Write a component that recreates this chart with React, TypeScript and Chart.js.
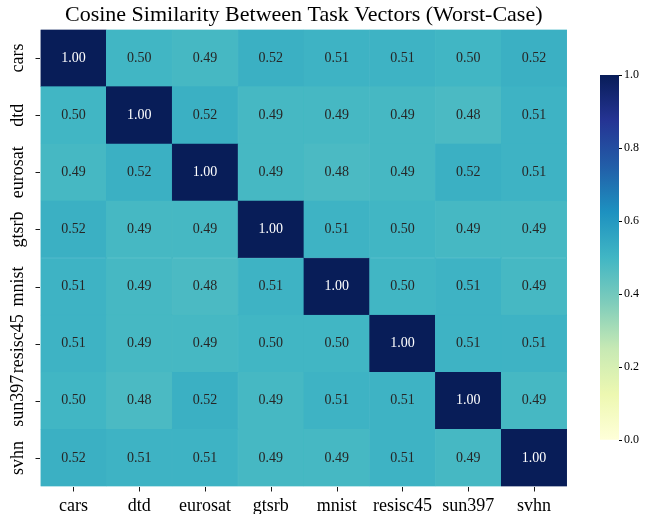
import React, { useEffect, useRef } from "react";
import { Chart, registerables } from "chart.js";

Chart.register(...registerables);

const TITLE = "Cosine Similarity Between Task Vectors (Worst-Case)";
const TASKS = ["cars", "dtd", "eurosat", "gtsrb", "mnist", "resisc45", "sun397", "svhn"];

const carsRow = [1.0, 0.5, 0.49, 0.52, 0.51, 0.51, 0.5, 0.52];
const dtdRow = [0.5, 1.0, 0.52, 0.49, 0.49, 0.49, 0.48, 0.51];
const eurosatRow = [0.49, 0.52, 1.0, 0.49, 0.48, 0.49, 0.52, 0.51];
const gtsrbRow = [0.52, 0.49, 0.49, 1.0, 0.51, 0.5, 0.49, 0.49];
const mnistRow = [0.51, 0.49, 0.48, 0.51, 1.0, 0.5, 0.51, 0.49];
const resisc45Row = [0.51, 0.49, 0.49, 0.5, 0.5, 1.0, 0.51, 0.51];
const sun397Row = [0.5, 0.48, 0.52, 0.49, 0.51, 0.51, 1.0, 0.49];
const svhnRow = [0.52, 0.51, 0.51, 0.49, 0.49, 0.51, 0.49, 1.0];

const MATRIX = [carsRow, dtdRow, eurosatRow, gtsrbRow, mnistRow, resisc45Row, sun397Row, svhnRow];

const CBAR_TICKS = [0, 0.2, 0.4, 0.6, 0.8, 1.0];

// YlGnBu colormap stops
const YLGNBU = ["#ffffd9", "#edf8b1", "#c7e9b4", "#7fcdbb", "#41b6c4", "#1d91c0", "#225ea8", "#253494", "#081d58"];

const FONT = "'Liberation Serif', 'DejaVu Serif', serif";

function hexToRgb(h: string) {
  const n = parseInt(h.slice(1), 16);
  return [(n >> 16) & 255, (n >> 8) & 255, n & 255];
}

function mix(v: number) {
  const t = Math.max(0, Math.min(1, v)) * (YLGNBU.length - 1);
  const i = Math.min(Math.floor(t), YLGNBU.length - 2);
  const f = t - i;
  const a = hexToRgb(YLGNBU[i]);
  const b = hexToRgb(YLGNBU[i + 1]);
  return a.map((x, k) => x + (b[k] - x) * f);
}

function cmap(v: number) {
  const c = mix(v).map((x) => Math.round(x));
  return `rgb(${c[0]},${c[1]},${c[2]})`;
}

function luminance(v: number) {
  const c = mix(v).map((x) => x / 255);
  return 0.2126 * c[0] + 0.7152 * c[1] + 0.0722 * c[2];
}

const PLOT_LEFT = 40.5;
const PLOT_RIGHT = 567;
const PLOT_TOP = 29.5;
const PLOT_BOTTOM = 486.5;
const W = 668;
const H = 514;

const heatPlugin = {
  id: "heatExtras",
  afterDatasetsDraw(chart: any) {
    const { ctx, chartArea } = chart;
    const yScale = chart.scales.y;
    const xScale = chart.scales.x;
    ctx.save();
    chart.data.datasets.forEach((ds: any, d: number) => {
      const meta = chart.getDatasetMeta(d);
      const rowIdx = TASKS.length - 1 - d;
      meta.data.forEach((el: any, c: number) => {
        const v = MATRIX[rowIdx][c];
        const cy = (el.y + el.base) / 2;
        ctx.font = `14px ${FONT}`;
        ctx.textAlign = "center";
        ctx.textBaseline = "middle";
        ctx.fillStyle = luminance(v) > 0.408 ? "#262626" : "#ffffff";
        ctx.fillText(v.toFixed(2), el.x, cy);
      });
    });
    // tick marks
    ctx.strokeStyle = "#000";
    ctx.lineWidth = 0.9;
    TASKS.forEach((_, i) => {
      const x = Math.round(xScale.getPixelForValue(i)) + 0.5;
      ctx.beginPath();
      ctx.moveTo(x, chartArea.bottom + 0.5);
      ctx.lineTo(x, chartArea.bottom + 5);
      ctx.stroke();
      const y = Math.round(yScale.getPixelForValue(TASKS.length - i - 0.5)) + 0.5;
      ctx.beginPath();
      ctx.moveTo(chartArea.left - 5, y);
      ctx.lineTo(chartArea.left - 0.5, y);
      ctx.stroke();
    });
    ctx.fillStyle = "#000";
    ctx.font = `18px ${FONT}`;
    TASKS.forEach((t, i) => {
      const y = yScale.getPixelForValue(TASKS.length - i - 0.5);
      ctx.save();
      ctx.translate(18, y);
      ctx.rotate(-Math.PI / 2);
      ctx.textAlign = "center";
      ctx.textBaseline = "middle";
      ctx.fillText(t, 0, 0);
      ctx.restore();
    });
    ctx.font = `22px ${FONT}`;
    ctx.textAlign = "center";
    ctx.textBaseline = "middle";
    ctx.fillText(TITLE, (chartArea.left + chartArea.right) / 2, 15);
    ctx.restore();
  },
};

function Heatmap() {
  const ref = useRef<HTMLCanvasElement>(null);
  useEffect(() => {
    if (!ref.current) return;
    const datasets = TASKS.map((_, d) => {
      const rowIdx = TASKS.length - 1 - d;
      return {
        label: TASKS[rowIdx],
        data: TASKS.map(() => 1),
        backgroundColor: MATRIX[rowIdx].map((v) => cmap(v)),
        borderColor: MATRIX[rowIdx].map((v) => cmap(v)),
        borderWidth: 0.5,
        borderSkipped: false,
        barPercentage: 1,
        categoryPercentage: 1,
      };
    });
    const chart = new Chart(ref.current, {
      type: "bar",
      data: { labels: TASKS, datasets },
      options: {
        animation: false,
        responsive: false,
        maintainAspectRatio: false,
        layout: { padding: { top: PLOT_TOP, left: 0, right: W - PLOT_RIGHT, bottom: 0 } },
        plugins: { legend: { display: false }, tooltip: { enabled: false }, title: { display: false } },
        scales: {
          x: {
            stacked: true,
            grid: { display: false, drawTicks: true, tickLength: 5 },
            border: { display: false },
            ticks: { font: { family: FONT, size: 18 }, color: "#000", padding: 4, maxRotation: 0, autoSkip: false },
            afterFit: (s: any) => {
              s.height = H - PLOT_BOTTOM;
            },
          },
          y: {
            type: "linear",
            stacked: true,
            min: 0,
            max: TASKS.length,
            grid: { display: false },
            border: { display: false },
            ticks: { display: false },
            afterBuildTicks: (s: any) => {
              s.ticks = TASKS.map((_, i) => ({ value: i + 0.5 }));
            },
            afterFit: (s: any) => {
              s.width = PLOT_LEFT;
            },
          },
        },
      } as any,
      plugins: [heatPlugin],
    });
    return () => chart.destroy();
  }, []);
  return <canvas ref={ref} width={W} height={H} style={{ position: "absolute", left: 0, top: 0, width: W, height: H }} />;
}

const CB_LEFT = 560;
const CB_X0 = 600;
const CB_X1 = 619;
const CB_TOP = 75;
const CB_BOTTOM = 440;

function Colorbar() {
  const ref = useRef<HTMLCanvasElement>(null);
  useEffect(() => {
    if (!ref.current) return;
    const chart = new Chart(ref.current, {
      type: "bar",
      data: {
        labels: [""],
        datasets: [
          {
            data: [[CBAR_TICKS[0], CBAR_TICKS[CBAR_TICKS.length - 1]]],
            backgroundColor: (c: any) => {
              const { chart: ch } = c;
              const area = ch.chartArea;
              if (!area) return YLGNBU[4];
              const y = ch.scales.y;
              const g = ch.ctx.createLinearGradient(0, y.getPixelForValue(0), 0, y.getPixelForValue(1));
              YLGNBU.forEach((col, i) => g.addColorStop(i / (YLGNBU.length - 1), col));
              return g;
            },
            borderWidth: 0,
            barPercentage: 1,
            categoryPercentage: 1,
          },
        ],
      },
      options: {
        animation: false,
        responsive: false,
        maintainAspectRatio: false,
        layout: { padding: { top: CB_TOP, left: CB_X0 - CB_LEFT, right: 0, bottom: H - CB_BOTTOM } },
        plugins: { legend: { display: false }, tooltip: { enabled: false } },
        scales: {
          x: { display: false },
          y: {
            position: "right",
            min: 0,
            max: 1,
            afterBuildTicks: (s: any) => {
              s.ticks = CBAR_TICKS.map((v) => ({ value: v }));
            },
            grid: { display: true, drawOnChartArea: false, drawTicks: true, tickLength: 3, color: "#000" },
            border: { display: false },
            ticks: {
              font: { family: FONT, size: 12 },
              color: "#000",
              padding: 2,
              callback: (v: any) => Number(v).toFixed(1),
            },
            afterFit: (s: any) => {
              s.width = W - CB_X1;
            },
          },
        },
      } as any,
    });
    return () => chart.destroy();
  }, []);
  const cw = W - CB_LEFT;
  return <canvas ref={ref} width={cw} height={H} style={{ position: "absolute", left: CB_LEFT, top: 0, width: cw, height: H }} />;
}

export default function App() {
  return (
    <div style={{ position: "absolute", left: 0, top: 0, width: W, height: H, background: "#fff" }}>
      <Heatmap />
      <Colorbar />
    </div>
  );
}
